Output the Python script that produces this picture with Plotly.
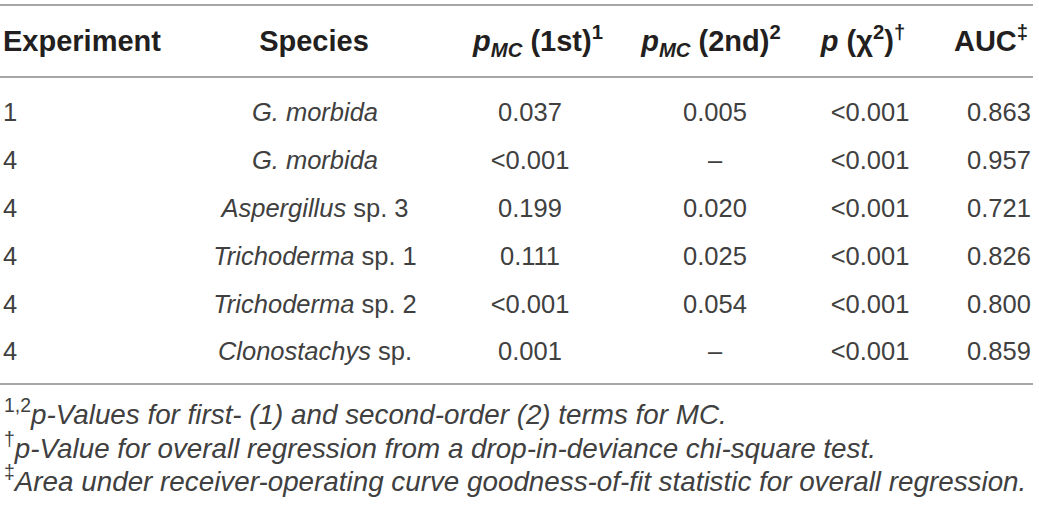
import plotly.graph_objects as go

# ---- table content ----
headers = [
    "<b>Experiment</b>",
    "<b>Species</b>",
    "<b><i>p</i><sub><i>MC</i></sub> (1st)<sup>1</sup></b>",
    "<b><i>p</i><sub><i>MC</i></sub> (2nd)<sup>2</sup></b>",
    "<b><i>p</i> (χ<sup>2</sup>)<sup>†</sup></b>",
    "<b>AUC<sup>‡</sup></b>",
]
experiment = ["1", "4", "4", "4", "4", "4"]
species = [
    "<i>G. morbida</i>",
    "<i>G. morbida</i>",
    "<i>Aspergillus</i> sp. 3",
    "<i>Trichoderma</i> sp. 1",
    "<i>Trichoderma</i> sp. 2",
    "<i>Clonostachys</i> sp.",
]
p_mc_1st = ["0.037", "<0.001", "0.199", "0.111", "<0.001", "0.001"]
p_mc_2nd = ["0.005", "–", "0.020", "0.025", "0.054", "–"]
p_chi2 = ["<0.001", "<0.001", "<0.001", "<0.001", "<0.001", "<0.001"]
auc = ["0.863", "0.957", "0.721", "0.826", "0.800", "0.859"]
footnotes = [
    "<sup>1,2</sup><i>p-Values for first- (1) and second-order (2) terms for MC.</i>",
    "<sup>†</sup><i>p-Value for overall regression from a drop-in-deviance chi-square test.</i>",
    "<sup>‡</sup><i>Area under receiver-operating curve goodness-of-fit statistic for overall regression.</i>",
]

# ---- layout constants (pixel-like coordinates) ----
W, H = 1039, 513
header_y = 44
row_y0, row_step = 115, 47.8
rule_ys = [5, 77, 384]
foot_y0, foot_step = 412, 33.5
col_x_data = [3, 315, 530, 715, 870, 999]
col_x_head = [3, 314, 538, 711, 863, 991]

HEAD_FONT = dict(family="Liberation Sans, Arial, Helvetica, sans-serif", size=29, color="#231f20")
CELL_FONT = dict(family="Liberation Sans, Arial, Helvetica, sans-serif", size=25.5, color="#404040")
FOOT_FONT = dict(family="Liberation Sans, Arial, Helvetica, sans-serif", size=27.8, color="#404040")

rows_y = [row_y0 + row_step * i for i in range(len(experiment))]
columns = [experiment, species, p_mc_1st, p_mc_2nd, p_chi2, auc]

fig = go.Figure()

# header
for j, h in enumerate(headers):
    fig.add_trace(go.Scatter(
        x=[col_x_head[j]], y=[header_y], mode="text", text=[h],
        textposition="middle right" if j == 0 else "middle center",
        textfont=HEAD_FONT, hoverinfo="skip", showlegend=False, cliponaxis=False,
    ))

# body cells
for j, col in enumerate(columns):
    fig.add_trace(go.Scatter(
        x=[col_x_data[j]] * len(col), y=rows_y, mode="text", text=col,
        textposition="middle right" if j == 0 else "middle center",
        textfont=CELL_FONT, hoverinfo="skip", showlegend=False, cliponaxis=False,
    ))

# horizontal rules
for ry in rule_ys:
    fig.add_shape(type="line", xref="x", yref="y", x0=0, x1=1033, y0=ry, y1=ry,
                  line=dict(color="#a6a6a6", width=2))

# footnotes
for i, f in enumerate(footnotes):
    fig.add_annotation(x=2, y=foot_y0 + foot_step * i, xref="x", yref="y",
                       text=f, showarrow=False, xanchor="left", yanchor="middle",
                       font=FOOT_FONT)

fig.update_layout(
    width=W, height=H,
    margin=dict(l=0, r=0, t=0, b=0),
    paper_bgcolor="white", plot_bgcolor="white",
    xaxis=dict(range=[0, W], visible=False, fixedrange=True),
    yaxis=dict(range=[H, 0], visible=False, fixedrange=True),
)

fig.write_html(
    "out.html",
    config={"displayModeBar": False},
    post_script="document.body.style.margin='0';document.body.style.padding='0';document.body.style.overflow='hidden';",
)
